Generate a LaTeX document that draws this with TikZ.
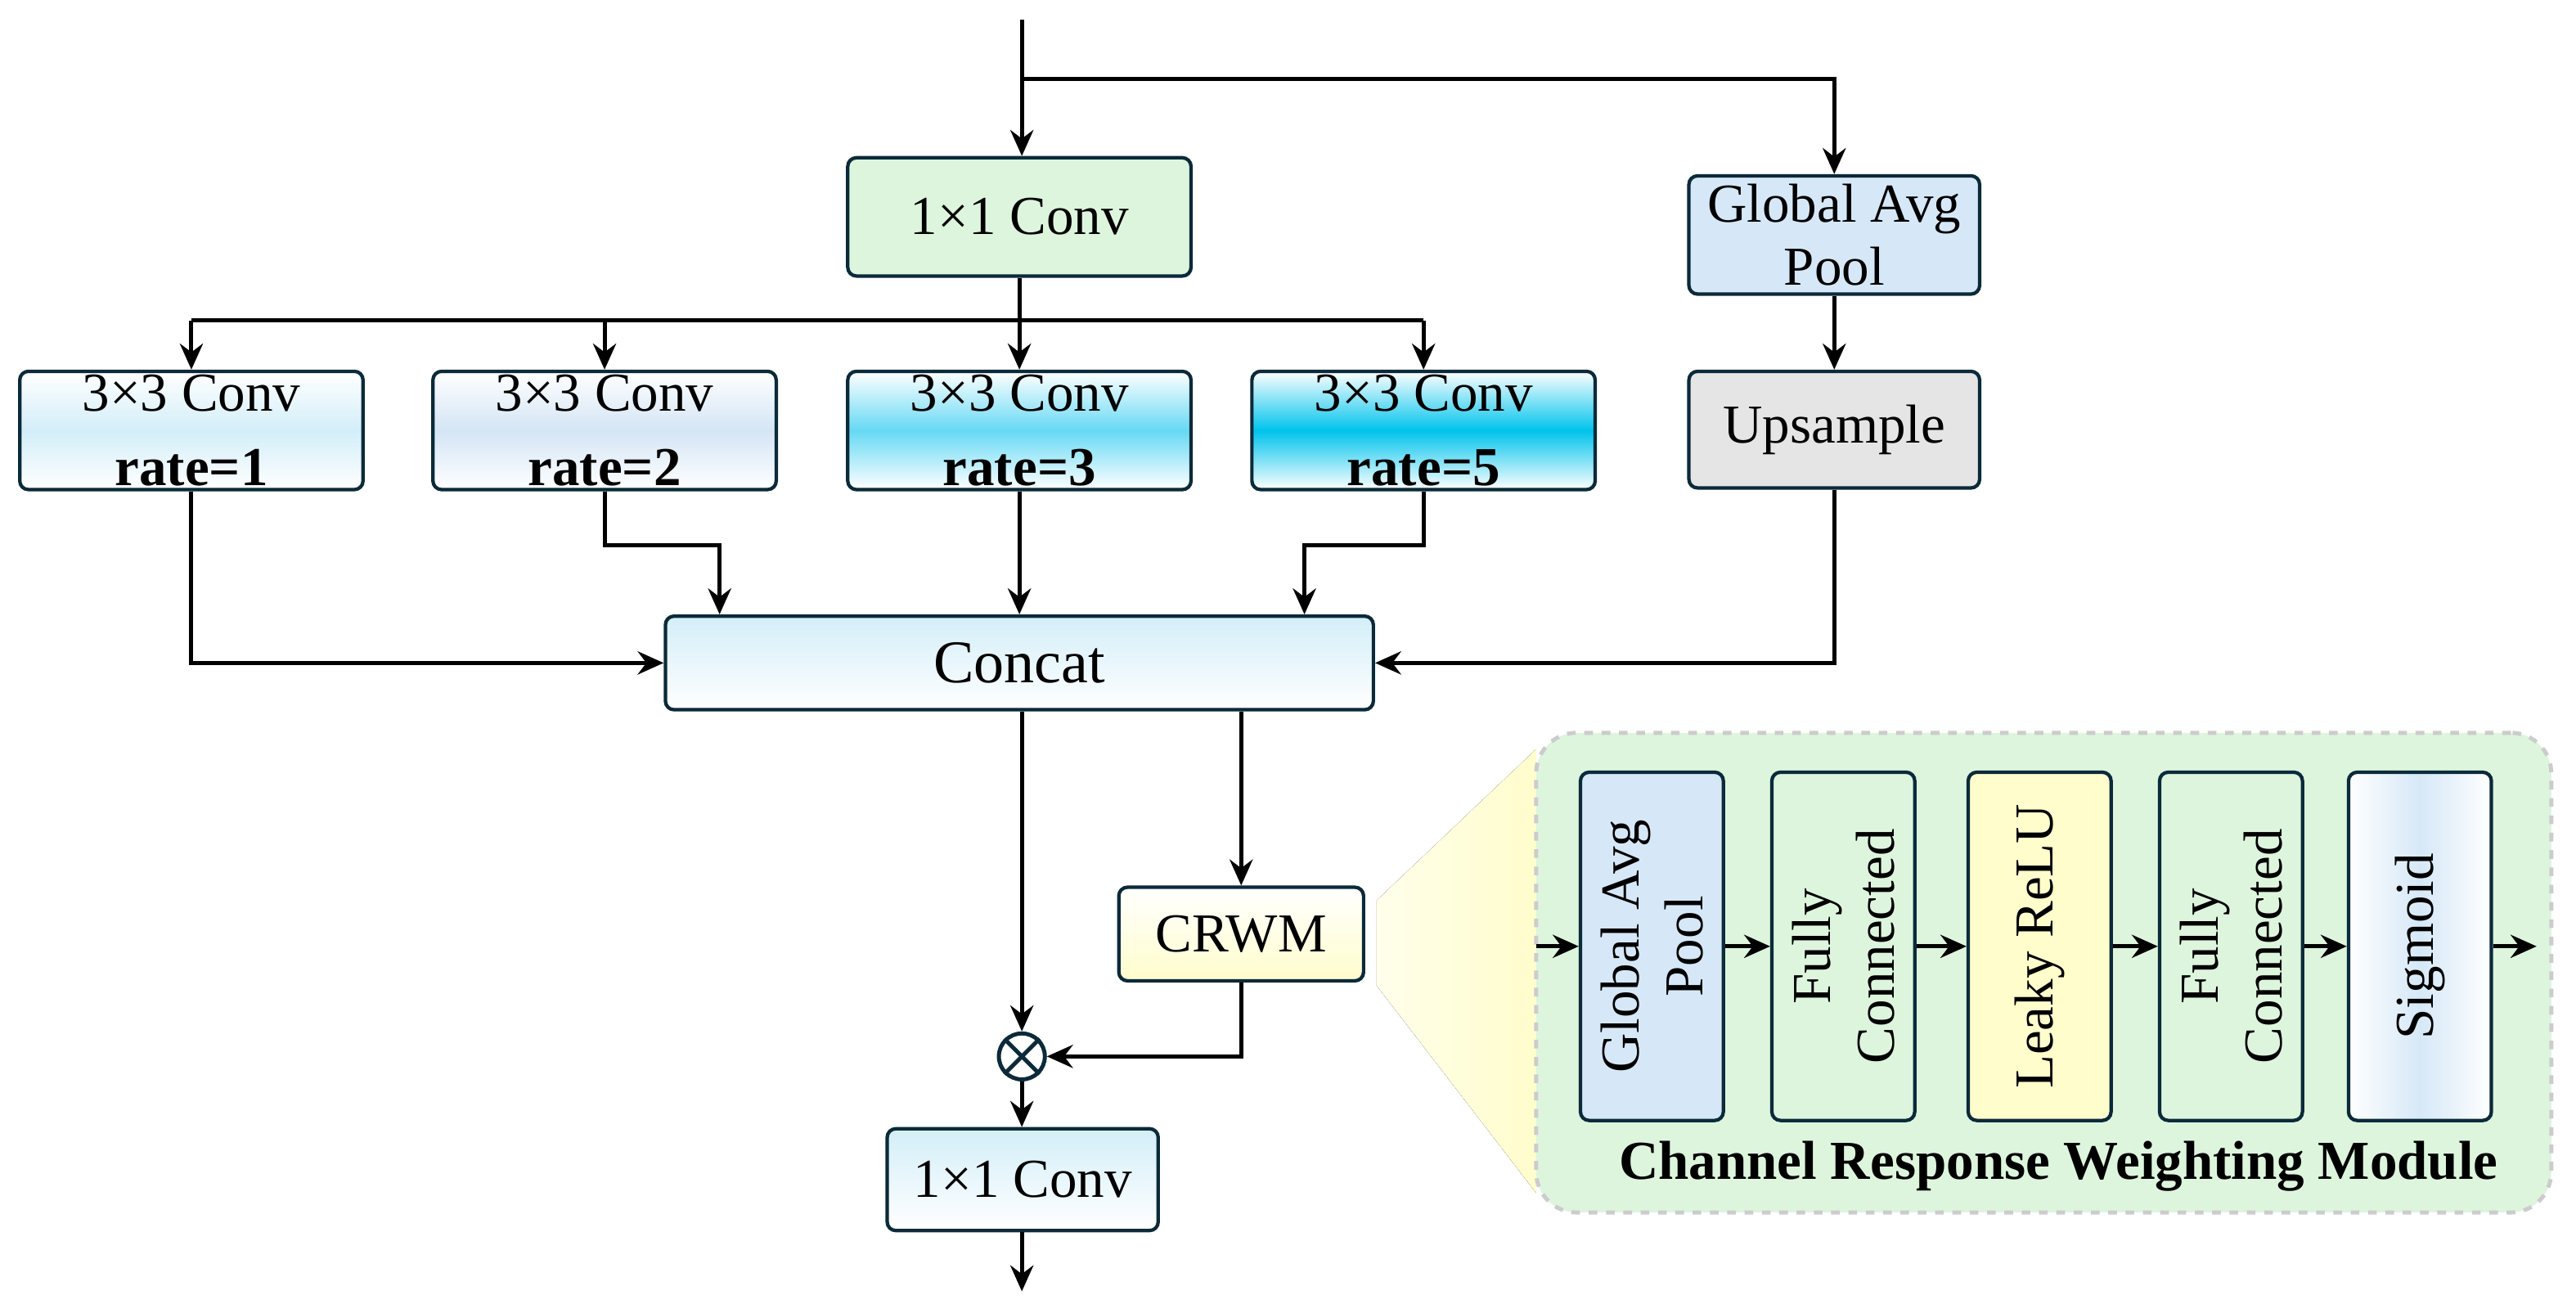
\documentclass[tikz,border=0pt]{standalone}
\usepackage{fontspec}
\setmainfont{Liberation Serif}
\usetikzlibrary{arrows.meta,calc}
\definecolor{edge}{HTML}{0B2A3A}
\definecolor{cgap}{HTML}{D6E8F7}
\definecolor{cb1}{HTML}{D3EEF8}
\definecolor{cb2}{HTML}{D4E5F5}
\definecolor{cb3}{HTML}{66D9F4}
\definecolor{cb4}{HTML}{00C3EC}
\definecolor{cgreen}{HTML}{DDF5DD}
\definecolor{cyel}{HTML}{FFFDCC}
\tikzset{
  box/.style={draw=edge,line width=1.2pt,rounded corners=3pt,font=\fontsize{19}{22}\selectfont,align=center,inner sep=0pt},
  arr/.style={-{Stealth[length=9pt,width=8pt,inset=3pt]},line width=1.4pt},
  ln/.style={line width=1.4pt},
  vbox/.style={box,minimum width=1.74cm,minimum height=4.24cm},
  vtxt/.style={rotate=90,font=\fontsize{19}{22}\selectfont,align=center}
}
\begin{document}
\begin{tikzpicture}[x=0.02cm,y=-0.02cm]
\useasboundingbox (0,0) rectangle (1568,799);
\node[box,fill=cgreen,minimum width=4.18cm,minimum height=1.44cm] (conv1) at (620.5,132) {1×1 Conv};
\node[box,fill=cgap,minimum width=3.54cm,minimum height=1.44cm] (gap) at (1116.5,143) {Global Avg\\Pool};
\node[box,fill=gray!20,minimum width=3.54cm,minimum height=1.42cm] (ups) at (1116.5,261.5) {Upsample};
\node[box,top color=white,bottom color=white,middle color=cb1,minimum width=4.18cm,minimum height=1.44cm] (b1) at (116.5,262) {3×3 Conv\\[4pt]\textbf{rate=1}};
\node[box,top color=white,bottom color=white,middle color=cb2,minimum width=4.18cm,minimum height=1.44cm] (b2) at (368,262) {3×3 Conv\\[4pt]\textbf{rate=2}};
\node[box,top color=white,bottom color=white,middle color=cb3,minimum width=4.18cm,minimum height=1.44cm] (b3) at (620.5,262) {3×3 Conv\\[4pt]\textbf{rate=3}};
\node[box,top color=white,bottom color=white,middle color=cb4,minimum width=4.18cm,minimum height=1.44cm] (b4) at (866.5,262) {3×3 Conv\\[4pt]\textbf{rate=5}};
\node[box,top color=cb1,bottom color=white,minimum width=8.62cm,minimum height=1.14cm,font=\fontsize{21}{24}\selectfont] (concat) at (620.5,403.5) {Concat};
\node[box,top color=white,bottom color=cyel,minimum width=2.98cm,minimum height=1.14cm] (crwm) at (755.5,568.5) {CRWM};
\node[draw=edge,line width=1.4pt,circle,minimum size=0.56cm,inner sep=0pt,fill=white] (ot) at (622,643) {};
\draw[line width=1.4pt,edge] (ot.north east)--(ot.south west) (ot.north west)--(ot.south east);
\node[box,top color=cb1,bottom color=white,minimum width=3.3cm,minimum height=1.24cm] (conv2) at (622.5,718) {1×1 Conv};
\coordinate (in) at (622,12);
\coordinate (sp) at (622,48);
\coordinate (bar) at (620.5,195);
\coordinate (j2) at (438,332);
\coordinate (j4) at (794,332);
\coordinate (out) at (622,786);
\draw[arr] (in) -- (in |- conv1.north);
\draw[arr] (sp) -| (gap.north);
\draw[arr] (gap) -- (ups);
\draw[ln] (conv1.south) -- (bar);
\draw[ln] (b1.north |- bar) -- (b4.north |- bar);
\foreach \b in {b1,b2,b3,b4} \draw[arr] (\b.north |- bar) -- (\b.north);
\draw[arr] (b1.south) |- (concat.west);
\draw[arr] (b2.south) |- (j2) -- (j2 |- concat.north);
\draw[arr] (b3.south) -- (concat.north -| b3.south);
\draw[arr] (b4.south) |- (j4) -- (j4 |- concat.north);
\draw[arr] (ups.south) |- (concat.east);
\draw[arr] (concat.south -| ot.north) -- (ot.north);
\draw[arr] (concat.south -| crwm.north) -- (crwm.north);
\draw[arr] (crwm.south) |- (ot.east);
\draw[arr] (ot.south) -- (conv2.north -| ot.south);
\draw[arr] (conv2.south -| ot.south) -- (out);
\fill[left color=cyel!40,right color=cyel] (838,548) -- (935,456) -- (935,726) -- (838,600) -- cycle;
\node[draw=gray!40,dashed,line width=1.4pt,fill=cgreen,rounded corners=14pt,minimum width=12.36cm,minimum height=5.84cm] (mod) at (1244,592) {};
\node[vbox,fill=cgap] (m1) at (1005.5,576) {};
\node[vtxt] at (m1) {Global Avg\\Pool};
\node[vbox,fill=cgreen] (m2) at (1122,576) {};
\node[vtxt] at (m2) {Fully\\Connected};
\node[vbox,fill=cyel] (m3) at (1241.5,576) {};
\node[vtxt] at (m3) {Leaky ReLU};
\node[vbox,fill=cgreen] (m4) at (1358,576) {};
\node[vtxt] at (m4) {Fully\\Connected};
\node[vbox,left color=white,right color=white,middle color=cgap] (m5) at (1473,576) {};
\node[vtxt] at (m5) {Sigmoid};
\coordinate (min) at (935,576);
\coordinate (mout) at (1544,576);
\draw[arr] (min) -- (m1.west);
\draw[arr] (m1.east) -- (m2.west);
\draw[arr] (m2.east) -- (m3.west);
\draw[arr] (m3.east) -- (m4.west);
\draw[arr] (m4.east) -- (m5.west);
\draw[arr] (m5.east) -- (mout);
\node[font=\fontsize{19}{22}\selectfont\bfseries] (lab) at (1253,710) {Channel Response Weighting Module};
\end{tikzpicture}
\end{document}
